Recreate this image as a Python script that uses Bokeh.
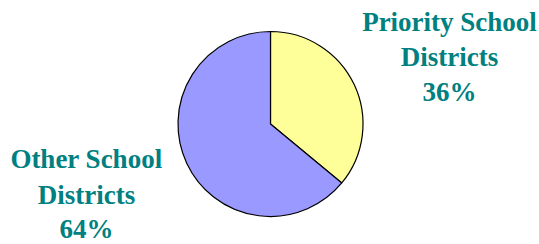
import math
from bokeh.plotting import figure
from bokeh.models import Range1d, Label, ColumnDataSource
from bokeh.embed import file_html
from bokeh.resources import INLINE

# Data
categories = ["Priority School Districts", "Other School Districts"]
shares = [36, 64]
colors = ["#FFFF99", "#9999FF"]
label_lines = [["Priority School", "Districts", "36%"],
               ["Other School", "Districts", "64%"]]

W, H = 539, 244
p = figure(width=W, height=H, output_backend="svg", toolbar_location=None,
           x_range=Range1d(0, W), y_range=Range1d(0, H),
           min_border=0, outline_line_color=None)
p.axis.visible = False
p.grid.visible = False
p.background_fill_color = "white"
p.border_fill_color = "white"

cx, cy, r = 270, 244 - 123.5, 92.5
total = sum(shares)
starts, ends = [], []
acc = 0.0
for s in shares:
    starts.append(math.pi / 2 - 2 * math.pi * acc / total)
    acc += s
    ends.append(math.pi / 2 - 2 * math.pi * acc / total)

src = ColumnDataSource(dict(cat=categories, val=shares, start=starts, end=ends, color=colors))
p.wedge(x=cx, y=cy, radius=r, start_angle="start", end_angle="end", direction="clock",
        fill_color="color", line_color="black", line_width=1.2, source=src)

anchors = [(449, [223, 188, 153]), (86, [86, 50, 16])]
for (ax, ys), lines, s in zip(anchors, label_lines, shares):
    for yy, t in zip(ys, lines):
        p.add_layout(Label(x=ax, y=yy, text=t, text_align="center", text_baseline="alphabetic",
                           text_font="Liberation Serif", text_font_style="bold",
                           text_font_size="27px", text_color="#008080"))

open("out.html", "w").write(file_html(p, INLINE))
